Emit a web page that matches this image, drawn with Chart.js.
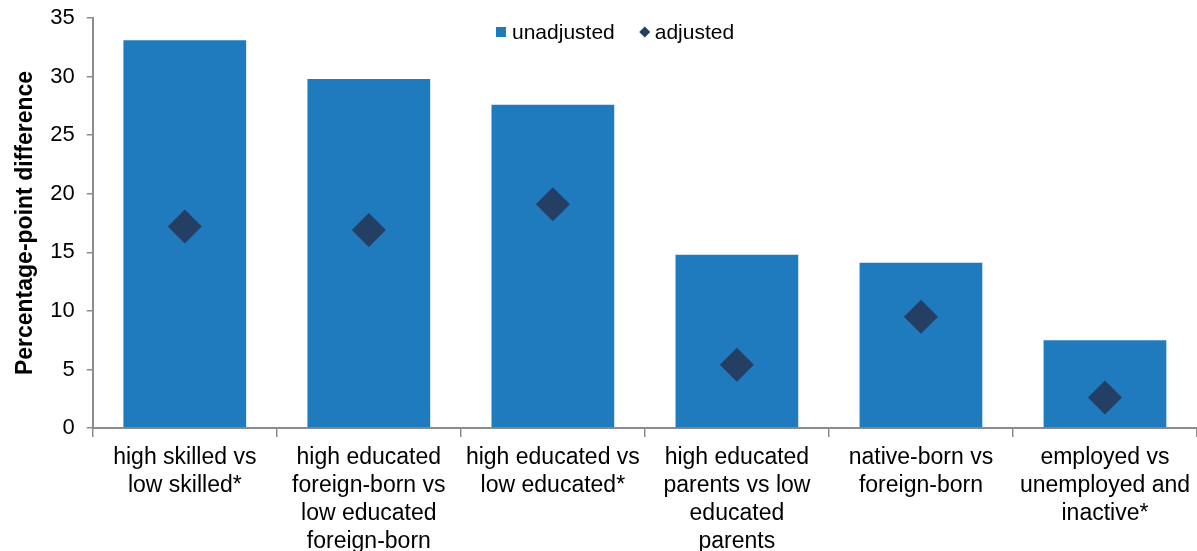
<!DOCTYPE html>
<html>
<head>
<meta charset="utf-8">
<script src="https://cdn.jsdelivr.net/npm/chart.js@4.4.1/dist/chart.umd.min.js"></script>
<style>
  html, body { margin: 0; padding: 0; background: #fff; }
  #wrap { width: 1197px; height: 551px; }
</style>
</head>
<body>
<div id="wrap"><canvas id="chart"></canvas></div>
<script>
// Category labels (already broken into lines as in the figure)
const categories = [
  ['high skilled vs', 'low skilled*'],
  ['high educated', 'foreign-born vs', 'low educated', 'foreign-born'],
  ['high educated vs', 'low educated*'],
  ['high educated', 'parents vs low', 'educated', 'parents'],
  ['native-born vs', 'foreign-born'],
  ['employed vs', 'unemployed and', 'inactive*']
];
const unadjusted = [33.1, 29.8, 27.6, 14.8, 14.1, 7.5];
const adjusted = [17.2, 16.9, 19.1, 5.4, 9.5, 2.6];
const yTicks = [0, 5, 10, 15, 20, 25, 30, 35];

const FONT = '"Liberation Sans", Arial, sans-serif';
const BAR_COLOR = '#1f7bbd';
const DIAMOND_COLOR = '#243f63';
const AXIS_COLOR = '#8c8c8c';

// legend drawn inside the plot, top centre
const topLegend = {
  id: 'topLegend',
  afterDraw(chart) {
    const ctx = chart.ctx;
    const sets = chart.data.datasets;
    const barLabel = sets.find(d => d.type !== 'line').label;
    const dotLabel = sets.find(d => d.type === 'line').label;
    const y = 32;
    let x = 496;
    ctx.save();
    ctx.font = '21px ' + FONT;
    ctx.textBaseline = 'middle';
    ctx.fillStyle = BAR_COLOR;
    ctx.fillRect(x, y - 5, 10, 10);
    ctx.fillStyle = '#000';
    ctx.fillText(barLabel, x + 16, y + 1);
    x += 16 + ctx.measureText(barLabel).width + 30;
    ctx.fillStyle = DIAMOND_COLOR;
    ctx.beginPath();
    ctx.moveTo(x, y - 5.5);
    ctx.lineTo(x + 5.5, y);
    ctx.lineTo(x, y + 5.5);
    ctx.lineTo(x - 5.5, y);
    ctx.closePath();
    ctx.fill();
    ctx.fillStyle = '#000';
    ctx.fillText(dotLabel, x + 10, y + 1);
    ctx.restore();
  }
};

new Chart(document.getElementById('chart'), {
  type: 'bar',
  data: {
    labels: categories,
    datasets: [
      {
        type: 'line',
        label: 'adjusted',
        data: adjusted,
        showLine: false,
        pointStyle: 'rectRot',
        pointRadius: 17,
        pointHoverRadius: 17,
        pointBackgroundColor: DIAMOND_COLOR,
        pointBorderColor: DIAMOND_COLOR,
        pointBorderWidth: 0,
        order: 0
      },
      {
        label: 'unadjusted',
        data: unadjusted,
        backgroundColor: BAR_COLOR,
        borderWidth: 0,
        categoryPercentage: 1,
        barPercentage: 0.667,
        order: 1
      }
    ]
  },
  options: {
    responsive: true,
    maintainAspectRatio: false,
    animation: false,
    layout: { autoPadding: false, padding: { left: 4, right: 0, top: 18, bottom: -12 } },
    plugins: {
      legend: { display: false },
      tooltip: { enabled: false }
    },
    scales: {
      x: {
        grid: { display: true, drawOnChartArea: false, drawTicks: true, tickLength: 9, color: AXIS_COLOR, lineWidth: 1.5 },
        border: { color: AXIS_COLOR, width: 2 },
        ticks: {
          color: '#000',
          font: { family: FONT, size: 23, lineHeight: 1.217 },
          padding: 7,
          maxRotation: 0,
          minRotation: 0,
          autoSkip: false
        }
      },
      y: {
        min: 0,
        max: 35,
        afterBuildTicks(scale) { scale.ticks = yTicks.map(v => ({ value: v })); },
        grid: { display: true, drawOnChartArea: false, drawTicks: true, tickLength: 6, color: AXIS_COLOR, lineWidth: 1.5 },
        border: { color: AXIS_COLOR, width: 2 },
        ticks: {
          color: '#000',
          font: { family: FONT, size: 22, lineHeight: 0.5 },
          padding: 12
        },
        title: {
          display: true,
          text: 'Percentage-point difference',
          color: '#000',
          font: { family: FONT, size: 23, weight: 'bold', lineHeight: 1.1 },
          padding: { top: 9, bottom: 0 }
        }
      }
    }
  },
  plugins: [topLegend]
});
</script>
</body>
</html>
